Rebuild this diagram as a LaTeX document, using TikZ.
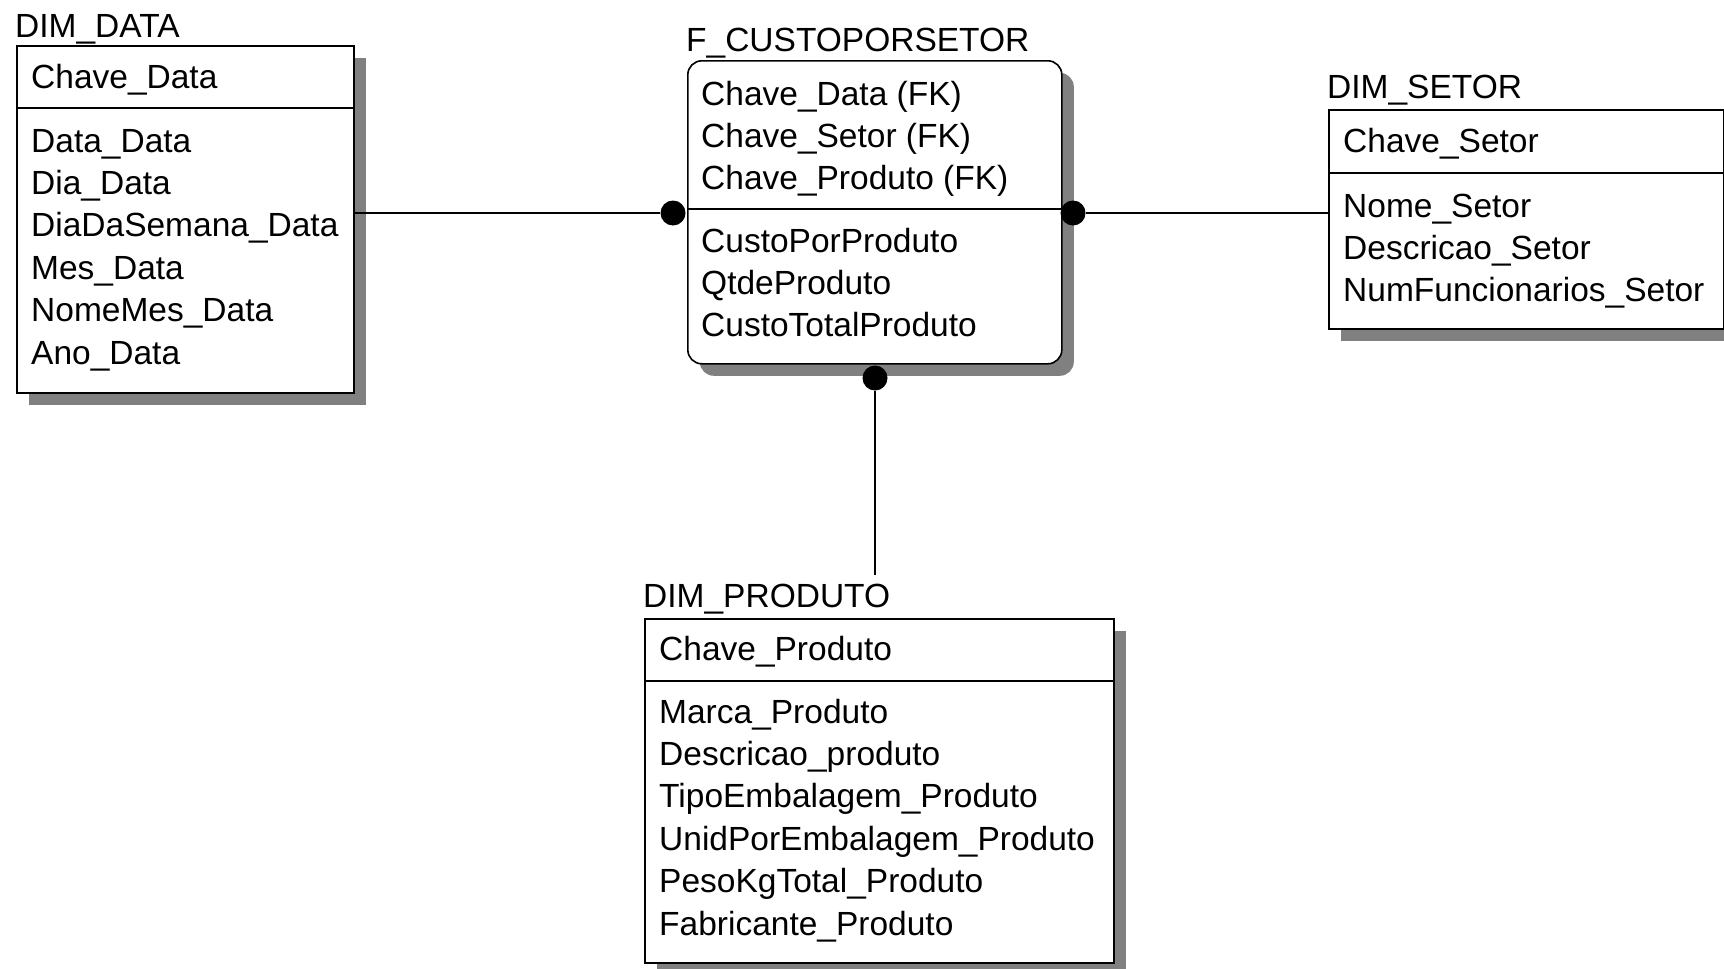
\documentclass[tikz,border=0pt]{standalone}
\usepackage{fontspec}
\setmainfont{Liberation Sans}
\usetikzlibrary{positioning,shadows}

\begin{document}
\begin{tikzpicture}[
x=1pt, y=-1pt,
% node style
entity/.style={draw, line width=1.6pt, fill=white, anchor=north west, inner sep=0pt,
  drop shadow={shadow xshift=12pt, shadow yshift=-12pt, fill=black!50, opacity=1}},
fact/.style={entity, rounded corners=14pt},
title/.style={font=\fontsize{33.5}{40}\selectfont, inner sep=0pt, anchor=base west},
attr/.style={font=\fontsize{33.5}{40}\selectfont, inner sep=0pt, text height=24pt, text depth=8pt, anchor=north west},
dot/.style={circle, fill=black, inner sep=0pt, minimum size=25pt},
rel/.style={line width=1.6pt},
node distance=10pt
]
\useasboundingbox (0,0) rectangle (1724,969);

% boxes
\node[entity, minimum width=337pt, minimum height=347pt] (data) at (16,45) {};
\node[fact, minimum width=374pt, minimum height=303pt] (fato) at (687,60) {};
\node[entity, minimum width=395pt, minimum height=219pt] (setor) at (1328,109) {};
\node[entity, minimum width=469pt, minimum height=344pt] (produto) at (644,618) {};

% key / attribute split
\draw[rel] (data.west |- 0,108) -- (data.east |- 0,108);
\draw[rel] (fato.west |- 0,209) -- (fato.east |- 0,209);
\draw[rel] (setor.west |- 0,173) -- (setor.east |- 0,173);
\draw[rel] (produto.west |- 0,681) -- (produto.east |- 0,681);

% titles
\node[title] (data_t) at (15,37) {DIM\_DATA};
\node[title] (fato_t) at (686,51) {F\_CUSTOPORSETOR};
\node[title] (setor_t) at (1327,98) {DIM\_SETOR};
\node[title] (produto_t) at (643,607) {DIM\_PRODUTO};

% DIM_DATA
\node[attr, anchor=base west] (data_k1) at (31,88) {Chave\_Data};
\node[attr, anchor=base west] (data_a1) at (31,152) {Data\_Data};
\node (data_a2) [below=of data_a1.south west, attr] {Dia\_Data};
\node (data_a3) [below=of data_a2.south west, attr] {DiaDaSemana\_Data};
\node (data_a4) [below=of data_a3.south west, attr] {Mes\_Data};
\node (data_a5) [below=of data_a4.south west, attr] {NomeMes\_Data};
\node (data_a6) [below=of data_a5.south west, attr] {Ano\_Data};

% F_CUSTOPORSETOR
\node[attr, anchor=base west] (fato_k1) at (701,105) {Chave\_Data (FK)};
\node (fato_k2) [below=of fato_k1.south west, attr] {Chave\_Setor (FK)};
\node (fato_k3) [below=of fato_k2.south west, attr] {Chave\_Produto (FK)};
\node[attr, anchor=base west] (fato_a1) at (701,252) {CustoPorProduto};
\node (fato_a2) [below=of fato_a1.south west, attr] {QtdeProduto};
\node (fato_a3) [below=of fato_a2.south west, attr] {CustoTotalProduto};

% DIM_SETOR
\node[attr, anchor=base west] (setor_k1) at (1343,152) {Chave\_Setor};
\node[attr, anchor=base west] (setor_a1) at (1343,217) {Nome\_Setor};
\node (setor_a2) [below=of setor_a1.south west, attr] {Descricao\_Setor};
\node (setor_a3) [below=of setor_a2.south west, attr] {NumFuncionarios\_Setor};

% DIM_PRODUTO
\node[attr, anchor=base west] (produto_k1) at (659,660) {Chave\_Produto};
\node[attr, anchor=base west] (produto_a1) at (659,723) {Marca\_Produto};
\node (produto_a2) [below=of produto_a1.south west, attr] {Descricao\_produto};
\node (produto_a3) [below=of produto_a2.south west, attr] {TipoEmbalagem\_Produto};
\node (produto_a4) [below=of produto_a3.south west, attr] {UnidPorEmbalagem\_Produto};
\node (produto_a5) [below=of produto_a4.south west, attr] {PesoKgTotal\_Produto};
\node (produto_a6) [below=of produto_a5.south west, attr] {Fabricante\_Produto};

% relationship ends
\node[dot] (dotL) at (673,213) {};
\node[dot] (dotR) at (1073,213) {};
\node[dot] (dotB) at (875,378) {};
\coordinate (produto_top) at (875,575);

% draw lines between nodes
\draw[rel] (data.east |- dotL) -- (dotL);
\draw[rel] (dotR) -- (dotR -| setor.west);
\draw[rel] (dotB) -- (produto_top);

\end{tikzpicture}
\end{document}
